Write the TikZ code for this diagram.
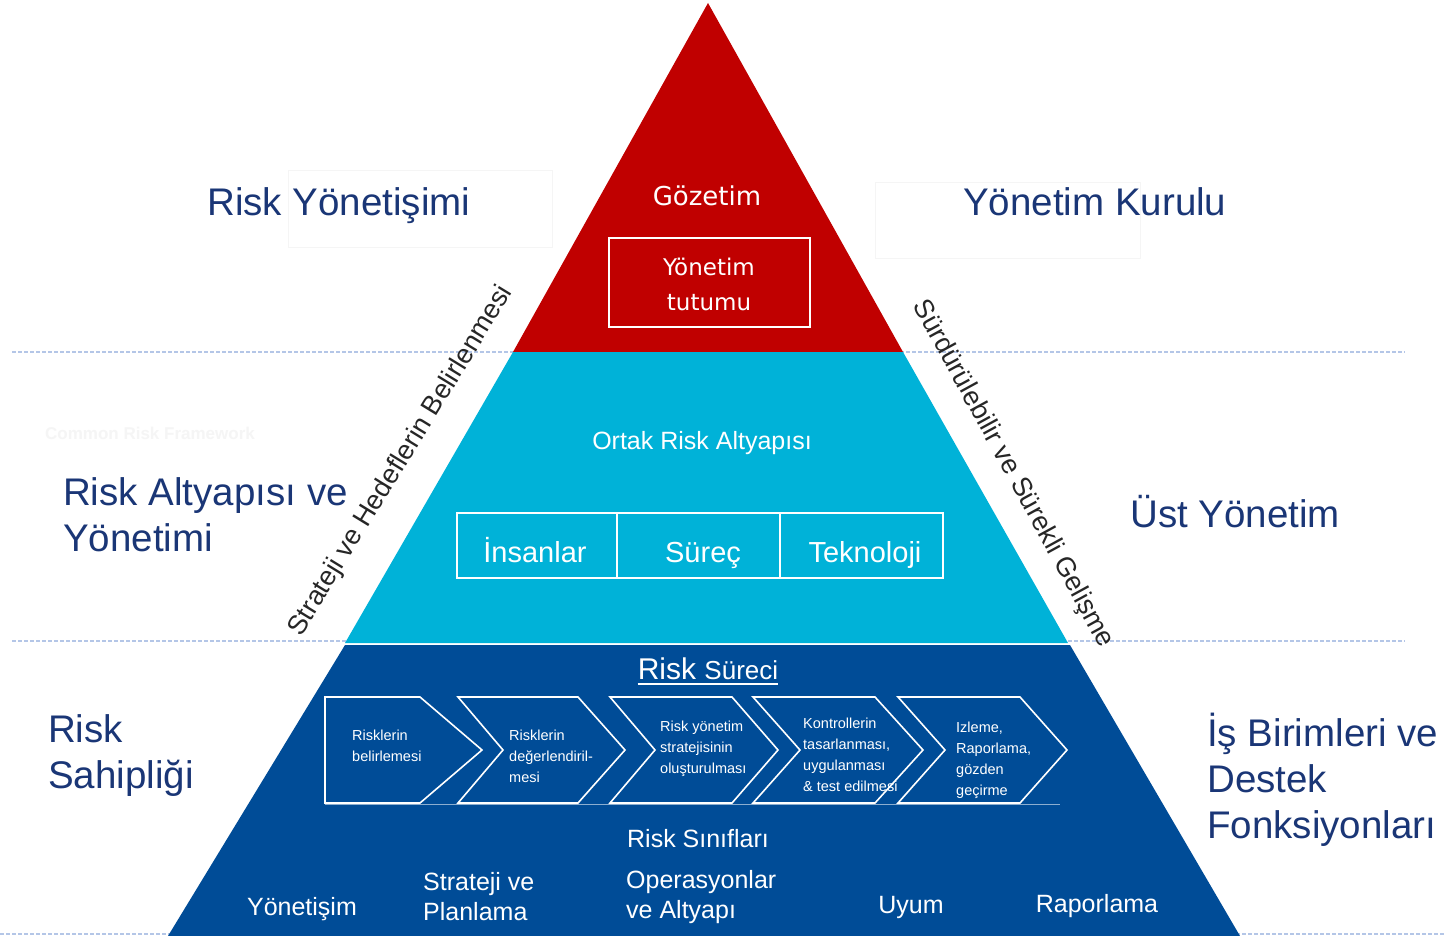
\documentclass[tikz,border=0pt]{standalone}
\usepackage{fontspec}
\setmainfont{Liberation Sans}
\newfontfamily\dejavu{DejaVu Sans}
\newcommand\setfs[2]{\fontsize{#1}{#2}\selectfont}
\definecolor{pyrred}{RGB}{192,0,0}
\definecolor{pyrcyan}{RGB}{0,178,216}
\definecolor{pyrblue}{RGB}{0,76,151}
\definecolor{navy}{RGB}{26,54,118}
\definecolor{dashc}{RGB}{180,198,231}
\begin{document}
\begin{tikzpicture}[x=1pt,y=-1pt,
  lab/.style={text=navy, font=\setfs{38.5}{46}, inner sep=0pt, align=left},
  wtxt/.style={text=white, inner sep=0pt},
  chev/.style={draw=white, line width=1.6pt, line join=miter},
  ctxt/.style={text=white, font=\setfs{14.5}{21}, align=left, inner sep=0pt, anchor=west},
  cls/.style={text=white, font=\setfs{25}{30}, align=left, inner sep=0pt},
  side/.style={text=black!85, font=\setfs{27}{30}, inner sep=0pt},
  dashline/.style={draw=dashc, line width=1.2pt, dash pattern=on 4pt off 2pt},
  faint/.style={draw=black!4, line width=0.8pt},
  wbox/.style={draw=white, line width=1.8pt}
]
\useasboundingbox (0,0) rectangle (1445,936);
\fill[white] (0,0) rectangle (1445,936);

% dashed guide lines
\draw[dashline] (12,352) -- (1405,352);
\draw[dashline] (12,641) -- (1405,641);
\draw[dashline] (0,934) -- (1445,934);

% faint text frames
\draw[faint] (288,170) rectangle (552,247);
\draw[faint] (875,182) rectangle (1140,258);
\node[text=black!4, font=\bfseries\setfs{17}{20}, inner sep=0pt] (crf) at (150,433) {Common Risk Framework};

% pyramid bands
\fill[pyrred] (708,3) -- (903,352) -- (513,352) -- cycle;
\fill[pyrcyan] (513,352) -- (903,352) -- (1068,643) -- (345,643) -- cycle;
\fill[pyrblue] (345,645) -- (1070,645) -- (1240,936) -- (168,936) -- cycle;

% side labels
\node[lab, anchor=base west] (rg) at (207,215) {Risk Yönetişimi};
\node[lab, anchor=base west] (yk) at (963,215) {Yönetim Kurulu};
\node[lab, anchor=west] (ray) at (63,515) {Risk Altyapısı ve\\Yönetimi};
\node[lab, anchor=base west] (uy) at (1130,527) {Üst Yönetim};
\node[lab, anchor=west] (rs) at (48,756) {Risk\\Sahipliği};
\node[lab, anchor=west] (ib) at (1207,780) {İş Birimleri ve\\Destek\\Fonksiyonları};

% top band
\node[wtxt, font=\dejavu\setfs{26}{30}, anchor=base] (goz) at (707,205) {Gözetim};
\draw[wbox] (609,238) rectangle (810,327);
\node[wtxt, font=\dejavu\setfs{23}{35}, align=center] (yt) at (709,284) {Yönetim\\tutumu};

% middle band
\node[wtxt, font=\setfs{25}{30}, anchor=base] (ora) at (702,449) {Ortak Risk Altyapısı};
\draw[wbox] (457,513) rectangle (617,578);
\draw[wbox] (617,513) rectangle (780,578);
\draw[wbox] (780,513) rectangle (943,578);
\node[wtxt, font=\setfs{29}{34}, anchor=base] (ins) at (535,562) {İnsanlar};
\node[wtxt, font=\setfs{29}{34}, anchor=base] (sur) at (703,562) {Süreç};
\node[wtxt, font=\setfs{29}{34}, anchor=base] (tek) at (865,562) {Teknoloji};

% rotated side texts
\node[side, rotate=58.5] (shb) at (401,461) {Strateji ve Hedeflerin Belirlenmesi};
\node[side, rotate=-61.3] (ssg) at (1013,474) {Sürdürülebilir ve Sürekli Gelişme};

% bottom band
\node[wtxt, anchor=base] (rsu) at (708,679) {{\setfs{30}{34}Risk\ }{\setfs{26}{30}Süreci}};
\draw[white, line width=1.5pt] ([yshift=-5pt]rsu.base west) -- ([yshift=-5pt]rsu.base east);

\draw[chev] (325,697) -- (420,697) -- (482,750) -- (420,803) -- (325,803) -- cycle;
\draw[chev] (458,697) -- (578,697) -- (625,750) -- (578,803) -- (458,803) -- (503,750) -- cycle;
\draw[chev] (610,697) -- (732,697) -- (778,750) -- (732,803) -- (610,803) -- (655,750) -- cycle;
\draw[chev] (753,697) -- (875,697) -- (923,750) -- (875,803) -- (753,803) -- (800,750) -- cycle;
\draw[chev] (898,697) -- (1020,697) -- (1067,750) -- (1020,803) -- (898,803) -- (945,750) -- cycle;
\draw[white!55!pyrblue, line width=1pt] (325,804) -- (1060,804);

\node[ctxt] (c1) at (352,746) {Risklerin\\belirlemesi};
\node[ctxt] (c2) at (509,756) {Risklerin\\değerlendiril-\\mesi};
\node[ctxt] (c3) at (660,749) {Risk yönetim\\stratejisinin\\oluşturulması};
\node[ctxt] (c4) at (803,755) {Kontrollerin\\tasarlanması,\\uygulanması\\\& test edilmesi};
\node[ctxt] (c5) at (956,760) {Izleme,\\Raporlama,\\gözden\\geçirme};

\node[wtxt, font=\setfs{25}{30}, anchor=base] (rsi) at (698,847) {Risk Sınıfları};
\node[wtxt, font=\setfs{25}{30}, anchor=base] (k1) at (302,915) {Yönetişim};
\node[cls, anchor=west] (k2) at (423,897) {Strateji ve\\Planlama};
\node[cls, anchor=west] (k3) at (626,897) {Operasyonlar\\ve Altyapı};
\node[wtxt, font=\setfs{25}{30}, anchor=base] (k4) at (911,913) {Uyum};
\node[wtxt, font=\setfs{25}{30}, anchor=base] (k5) at (1097,912) {Raporlama};
\end{tikzpicture}
\end{document}
